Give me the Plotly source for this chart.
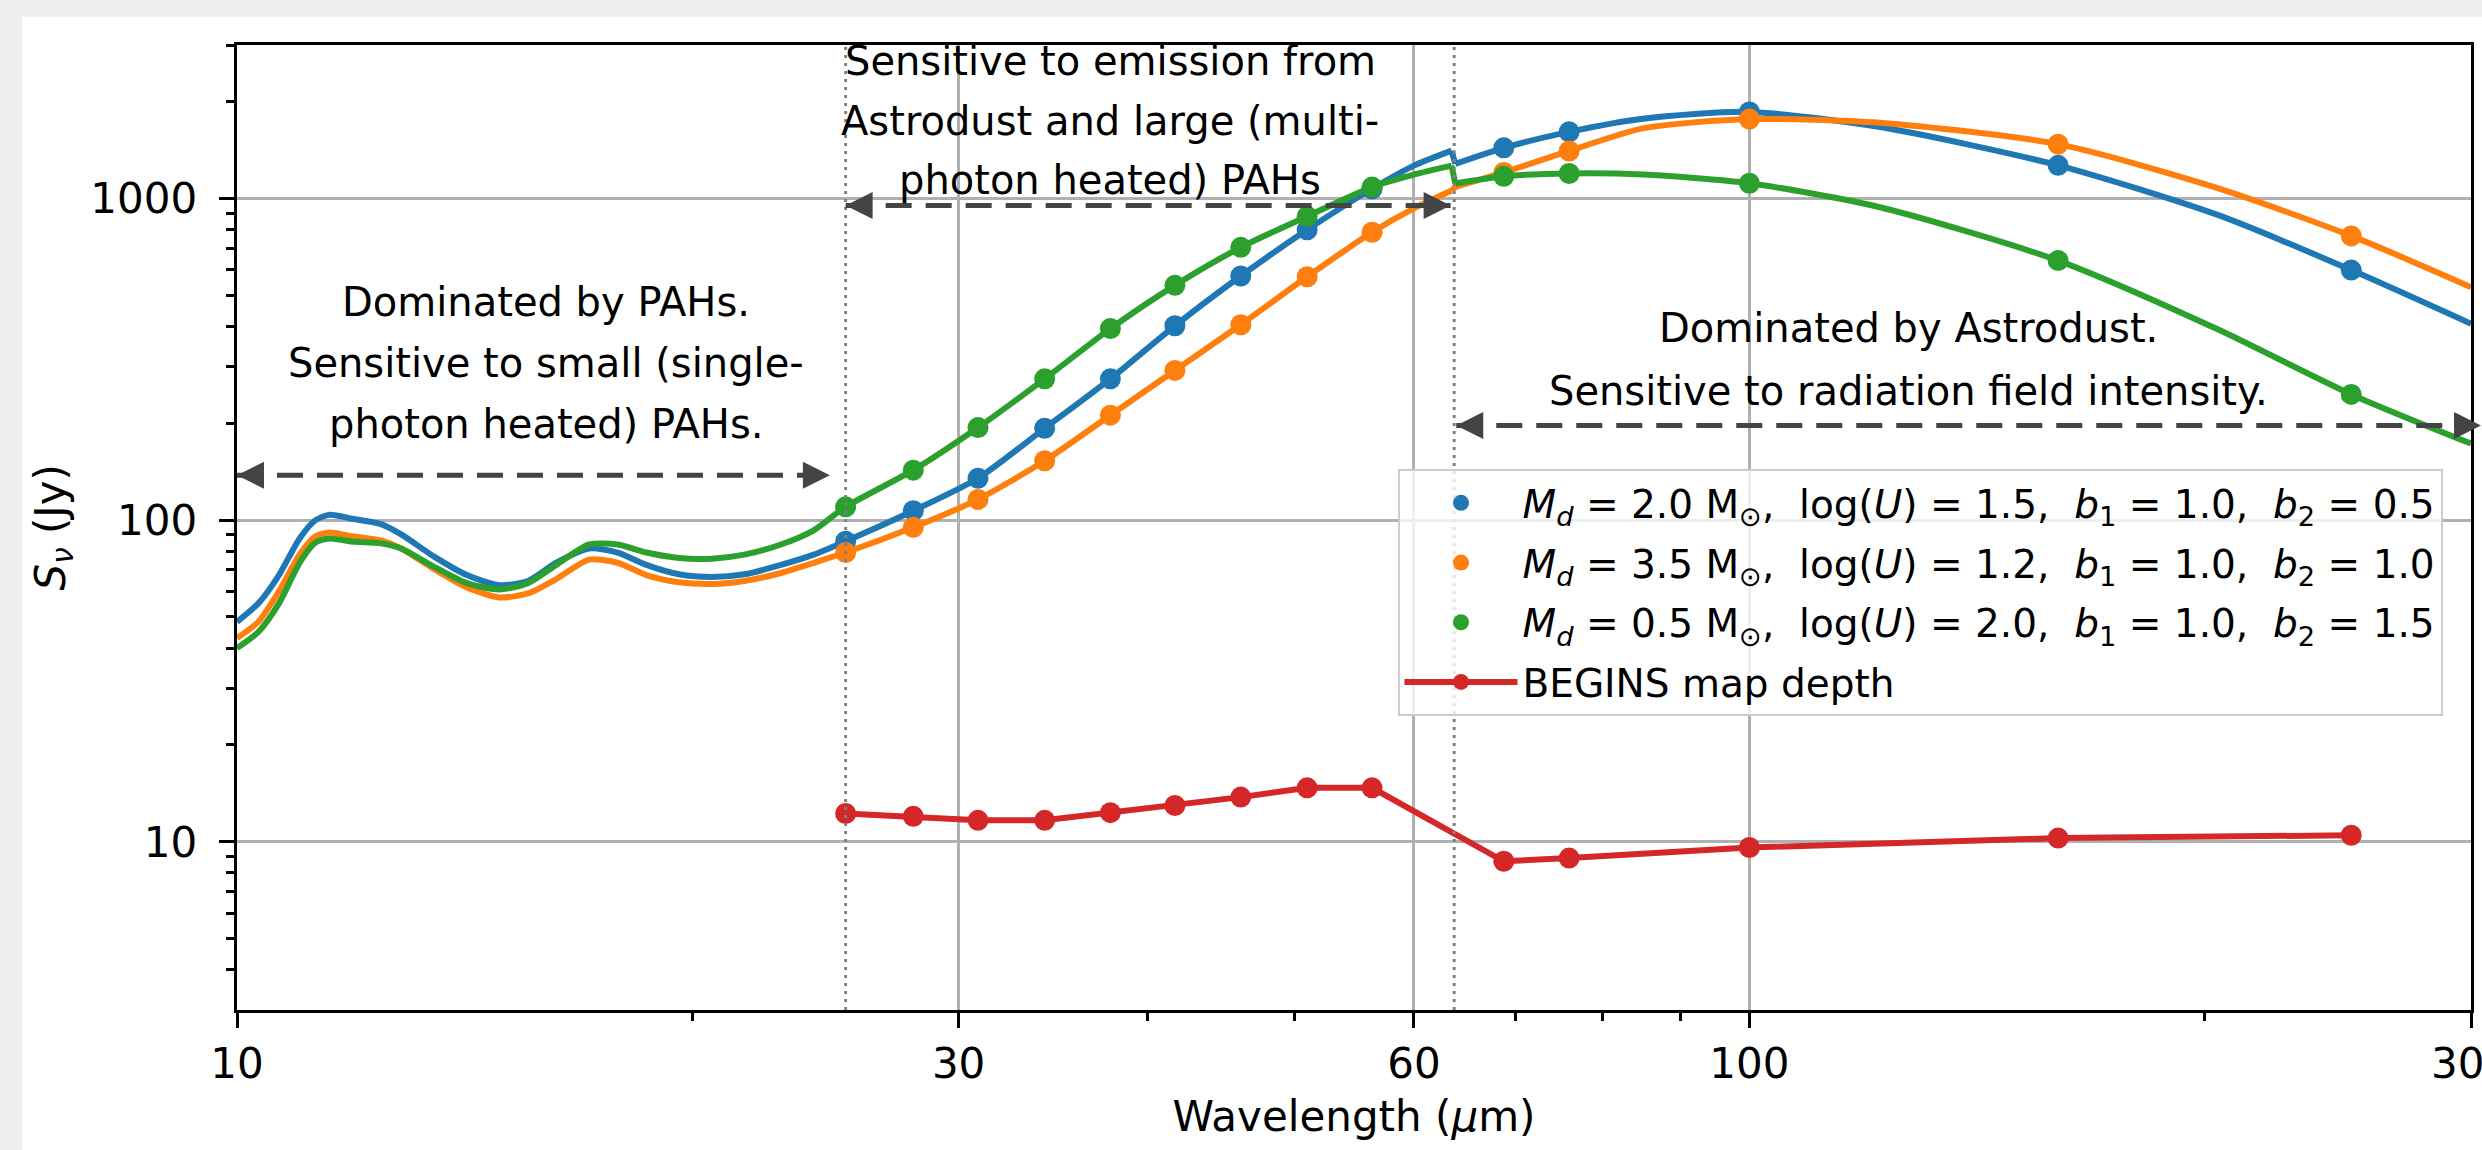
import numpy as np
import plotly.graph_objects as go

# ---------------- data ----------------
# model SEDs, short-wavelength part (up to the discontinuity near 64 um)
wl_pre = [10.0, 10.33, 10.66, 11.0, 11.27, 11.52, 11.92, 12.45, 12.84, 13.5, 14.19, 14.91,
          15.57, 16.26, 17.09, 17.85, 18.65, 19.6, 20.6, 21.65, 22.89, 24.06, 25.26, 28.0,
          30.9, 34.2, 37.8, 41.7, 46.1, 51.0, 56.3, 60.0, 63.55]
blue_pre = [48.3, 55.1, 67.5, 87.7, 100, 104, 101, 97.2, 90.3, 77, 67.5, 62.8,
            64.7, 73.7, 81.6, 79.3, 72.6, 67.9, 66.6, 67.9, 72.6, 78.1, 86, 107,
            135, 193, 275, 402, 574, 799, 1072, 1265, 1408]
orange_pre = [43.0, 48.3, 60.1, 78.1, 89.1, 91.6, 89.1, 86.5, 81.6, 70.5, 61.8, 57.5,
              59.2, 65.6, 75.4, 73.7, 67.5, 64.1, 63.3, 64.7, 68.5, 73.7, 79.3, 95,
              116, 153, 212, 292, 405, 571, 785, 931, 1058]
green_pre = [40.0, 44.9, 55.1, 73.7, 85.2, 87.7, 85.8, 84.7, 81.6, 71.6, 63.7, 60.9,
             63.7, 72.6, 84.0, 84.0, 79.3, 76.3, 75.9, 78.1, 84.0, 93.0, 110, 143,
             194, 275, 394, 537, 705, 880, 1085, 1186, 1265]

# model SEDs, long-wavelength part
wl_post = [63.9, 68.8, 76.0, 85.0, 100, 122, 160, 204, 250, 300]
blue_post = [1281, 1437, 1611, 1770, 1858, 1667, 1268, 889, 599, 408]
orange_post = [1086, 1205, 1405, 1652, 1765, 1720, 1475, 1077, 765, 530]
green_post = [1113, 1172, 1196, 1187, 1115, 939, 641, 392, 246, 173]

# BEGINS bands and band fluxes
wl_bands = [25.26, 28.0, 30.9, 34.2, 37.8, 41.7, 46.1, 51.0, 56.3, 68.8, 76.0, 100, 160, 250]
blue_bands = [86, 107, 135, 193, 275, 402, 574, 799, 1072, 1437, 1611, 1858, 1268, 599]
orange_bands = [79.3, 95, 116, 153, 212, 292, 405, 571, 785, 1205, 1405, 1765, 1475, 765]
green_bands = [110, 143, 194, 275, 394, 537, 705, 880, 1085, 1172, 1196, 1115, 641, 246]
begins_depth = [12.25, 12.0, 11.66, 11.66, 12.32, 12.97, 13.77, 14.72, 14.72, 8.7, 8.9, 9.6, 10.27, 10.48]

legend_labels = [
    "<i>M</i><sub><i>d</i></sub> = 2.0 M<sub>⊙</sub>,  log(<i>U</i>) = 1.5,  <i>b</i><sub>1</sub> = 1.0,  <i>b</i><sub>2</sub> = 0.5",
    "<i>M</i><sub><i>d</i></sub> = 3.5 M<sub>⊙</sub>,  log(<i>U</i>) = 1.2,  <i>b</i><sub>1</sub> = 1.0,  <i>b</i><sub>2</sub> = 1.0",
    "<i>M</i><sub><i>d</i></sub> = 0.5 M<sub>⊙</sub>,  log(<i>U</i>) = 2.0,  <i>b</i><sub>1</sub> = 1.0,  <i>b</i><sub>2</sub> = 1.5",
    "BEGINS map depth",
]

region_edges = [25.26, 63.8]

# double-headed region arrows: (left tip wavelength, right tip wavelength, flux level)
arrows = [(10.0, 24.66, 137.9), (25.26, 63.45, 951.0), (64.0, 311.0, 196.8)]

# region labels: (text line, centre wavelength, flux level)
region_text = [
    ("Dominated by PAHs.", 16.0, 476),
    ("Sensitive to small (single-", 16.0, 308),
    ("photon heated) PAHs.", 16.0, 199),
    ("Sensitive to emission from", 37.8, 2676),
    ("Astrodust and large (multi-", 37.8, 1744),
    ("photon heated) PAHs", 37.8, 1144),
    ("Dominated by Astrodust.", 127.5, 395),
    ("Sensitive to radiation field intensity.", 127.5, 252),
]

x_ticks = [10, 30, 60, 100, 300]
x_minor = [20, 40, 50, 70, 80, 90, 200]
y_ticks = [10, 100, 1000]
y_minor = [4, 5, 6, 7, 8, 9, 20, 30, 40, 50, 60, 70, 80, 90,
           200, 300, 400, 500, 600, 700, 800, 900, 2000, 3000]
x_range = (10, 300)
y_range = (3, 3000)
x_title = "Wavelength (<i>μ</i>m)"
y_title = "<i>S</i><sub><i>ν</i></sub> (Jy)"

# ---------------- styling ----------------
FONT = "DejaVu Sans"
COLS = ["#1f77b4", "#ff7f0e", "#2ca02c"]
RED = "#d62728"
ARROW_C = "#444444"
LW = 6
MS = 21
HEAD = 27

W, H = 2482, 1150
L, R, T, B = 237, 11, 45, 140
pw, ph = W - L - R, H - T - B

fig = go.Figure()

pre_sets = [blue_pre, orange_pre, green_pre]
post_sets = [blue_post, orange_post, green_post]
band_sets = [blue_bands, orange_bands, green_bands]

# model curves
for col, ypre, ypost in zip(COLS, pre_sets, post_sets):
    fig.add_trace(go.Scatter(x=wl_pre, y=ypre, mode="lines", showlegend=False, hoverinfo="skip",
                             line=dict(color=col, width=LW, shape="spline", smoothing=0.7)))
    fig.add_trace(go.Scatter(x=[wl_pre[-1], wl_post[0]], y=[ypre[-1], ypost[0]], mode="lines",
                             showlegend=False, hoverinfo="skip", line=dict(color=col, width=LW)))
    fig.add_trace(go.Scatter(x=wl_post, y=ypost, mode="lines", showlegend=False, hoverinfo="skip",
                             line=dict(color=col, width=LW, shape="spline", smoothing=0.7)))

# band points of the models
for i, (col, yb, lab) in enumerate(zip(COLS, band_sets, legend_labels[:3])):
    fig.add_trace(go.Scatter(x=wl_bands, y=yb, mode="markers", name=lab, legendgroup=f"g{i}",
                             marker=dict(color=col, size=MS, line=dict(width=0))))

# map depth
fig.add_trace(go.Scatter(x=wl_bands, y=begins_depth, mode="lines+markers", name=legend_labels[3],
                         legendgroup="g3", line=dict(color=RED, width=LW),
                         marker=dict(color=RED, size=MS)))

# dotted region boundaries
for xe in region_edges:
    fig.add_trace(go.Scatter(x=[xe, xe], y=list(y_range), mode="lines", showlegend=False,
                             hoverinfo="skip", line=dict(color="#808080", width=3, dash="3px,5px")))

annotations = []
lx0, lx1 = np.log10(x_range[0]), np.log10(x_range[1])

# dashed arrow shafts and arrow heads
for (x0, x1, yv) in arrows:
    fig.add_trace(go.Scatter(x=[x0, x1], y=[yv, yv], mode="lines", showlegend=False, hoverinfo="skip",
                             line=dict(color=ARROW_C, width=5, dash="26px,14px")))
    fig.add_trace(go.Scatter(x=[x0], y=[yv], mode="markers", showlegend=False,
                             hoverinfo="skip", cliponaxis=False,
                             marker=dict(symbol="arrow-left", size=HEAD, color=ARROW_C, line=dict(width=0))))
    if x1 <= x_range[1]:
        fig.add_trace(go.Scatter(x=[x1], y=[yv], mode="markers", showlegend=False,
                                 hoverinfo="skip", cliponaxis=False,
                                 marker=dict(symbol="arrow-right", size=HEAD, color=ARROW_C,
                                             line=dict(width=0))))
    else:
        # head beyond the right axis limit (cut by the figure edge as in the original)
        annotations.append(dict(text="", showarrow=True, arrowhead=2, arrowsize=HEAD / 10,
                                arrowwidth=2, arrowcolor=ARROW_C, ax=-HEAD, ay=0,
                                xref="paper", x=(np.log10(x1) - lx0) / (lx1 - lx0),
                                yref="y", y=np.log10(yv)))

for txt, xw, yf in region_text:
    annotations.append(dict(text=txt, x=np.log10(xw), y=np.log10(yf), xref="x", yref="y",
                            showarrow=False, xanchor="center", yanchor="middle",
                            font=dict(family=FONT, size=40, color="black")))

# y-axis title
annotations.append(dict(text=y_title, xref="paper", yref="paper", x=(53 - L) / pw, y=0.5,
                        textangle=-90, showarrow=False, xanchor="center", yanchor="middle",
                        font=dict(family=FONT, size=42, color="black")))

# light-grey frame strips (left and top) around the white figure panel
shapes = [
    dict(type="rect", xref="paper", yref="paper", layer="below",
         x0=-L / pw - 0.01, x1=(22 - L) / pw, y0=-B / ph - 0.05, y1=1 + T / ph + 0.05,
         fillcolor="#efefef", line=dict(width=0)),
    dict(type="rect", xref="paper", yref="paper", layer="below",
         x0=-L / pw - 0.01, x1=1 + R / pw + 0.05, y0=1 + (T - 17) / ph, y1=1 + T / ph + 0.05,
         fillcolor="#efefef", line=dict(width=0)),
]

axis_common = dict(type="log", showline=True, linecolor="black", linewidth=3, mirror=True,
                   ticks="outside", ticklen=15, tickwidth=3, tickcolor="black",
                   showgrid=True, gridcolor="#b0b0b0", gridwidth=3, zeroline=False,
                   tickfont=dict(family=FONT, size=42, color="black"), tickmode="array",
                   automargin=False)

fig.update_layout(
    width=W, height=H,
    margin=dict(l=L, r=R, t=T, b=B),
    paper_bgcolor="white", plot_bgcolor="white",
    font=dict(family=FONT, color="black"),
    showlegend=True,
    legend=dict(x=(1397.5 - L) / pw, y=(H - B - 469) / ph, xanchor="left", yanchor="top",
                bgcolor="rgba(255,255,255,0.8)", bordercolor="#cccccc", borderwidth=2,
                font=dict(family=FONT, size=39, color="black"), itemwidth=113,
                traceorder="grouped", tracegroupgap=6),
    xaxis=dict(axis_common, range=[lx0, lx1 + 1e-6],
               tickvals=x_ticks, ticktext=[str(v) for v in x_ticks], ticklabeloverflow="allow",
               minor=dict(tickmode="array", tickvals=x_minor, ticks="outside", ticklen=8, tickwidth=3,
                          tickcolor="black", showgrid=False),
               title=dict(text=x_title, font=dict(family=FONT, size=42))),
    yaxis=dict(axis_common, range=[np.log10(y_range[0]), np.log10(y_range[1])], tickvals=y_ticks,
               ticktext=[str(v) + "\u00a0" for v in y_ticks],
               minor=dict(tickmode="array", tickvals=y_minor, ticks="outside", ticklen=8, tickwidth=3,
                          tickcolor="black", showgrid=False)),
    annotations=annotations,
    shapes=shapes,
    hovermode=False,
)

fig.write_html("out.html")
